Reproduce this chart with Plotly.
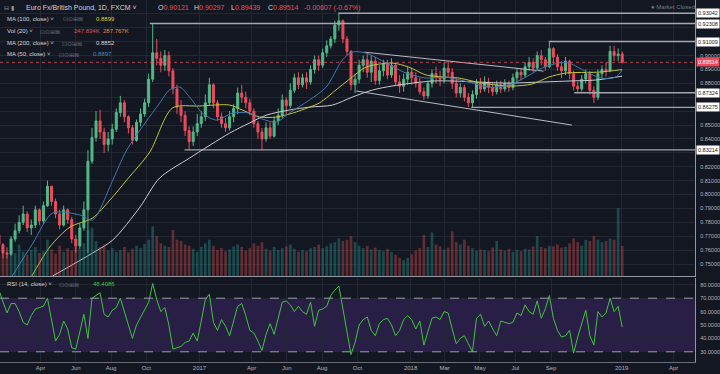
import plotly.graph_objects as go
import pandas as pd

# ---------------- data (weekly candles) ----------------
week_start = "2016-01-20"
n_weeks = 155
first_open = 0.771
last_open = 0.90121

closes = [0.764, 0.758, 0.757, 0.768, 0.774, 0.780, 0.786, 0.776, 0.778, 0.789,
          0.781, 0.792, 0.806, 0.795, 0.786, 0.778, 0.789, 0.782, 0.768, 0.763,
          0.776, 0.789, 0.824, 0.841, 0.853, 0.845, 0.836, 0.840, 0.847, 0.859,
          0.866, 0.856, 0.848, 0.839, 0.852, 0.858, 0.866, 0.883, 0.902, 0.898,
          0.893, 0.900, 0.889, 0.876, 0.863, 0.857, 0.846, 0.838, 0.845, 0.851,
          0.856, 0.866, 0.879, 0.866, 0.856, 0.851, 0.848, 0.856, 0.862, 0.873,
          0.870, 0.866, 0.860, 0.851, 0.845, 0.840, 0.848, 0.842, 0.853, 0.857,
          0.868, 0.864, 0.875, 0.884, 0.879, 0.884, 0.881, 0.890, 0.897, 0.893,
          0.902, 0.907, 0.912, 0.922, 0.925, 0.912, 0.903, 0.879, 0.883, 0.893,
          0.897, 0.888, 0.896, 0.882, 0.889, 0.894, 0.886, 0.893, 0.881, 0.878,
          0.883, 0.888, 0.884, 0.880, 0.874, 0.871, 0.880, 0.887, 0.885, 0.883,
          0.891, 0.888, 0.880, 0.873, 0.877, 0.870, 0.866, 0.872, 0.880, 0.876,
          0.881, 0.877, 0.874, 0.879, 0.876, 0.880, 0.877, 0.884, 0.888, 0.886,
          0.892, 0.895, 0.891, 0.900, 0.897, 0.892, 0.905, 0.899, 0.892, 0.889,
          0.896, 0.887, 0.878, 0.876, 0.883, 0.887, 0.875, 0.870, 0.887, 0.890,
          0.889, 0.903, 0.900, 0.901, 0.89514]

highs = [0.773, 0.765, 0.762, 0.770, 0.779, 0.785, 0.792, 0.788, 0.782, 0.792,
         0.790, 0.795, 0.810, 0.806, 0.797, 0.789, 0.792, 0.790, 0.784, 0.771,
         0.779, 0.795, 0.832, 0.848, 0.860, 0.861, 0.848, 0.845, 0.851, 0.862,
         0.871, 0.868, 0.857, 0.850, 0.854, 0.862, 0.869, 0.887, 0.923, 0.912,
         0.903, 0.904, 0.903, 0.891, 0.879, 0.868, 0.860, 0.849, 0.849, 0.858,
         0.860, 0.872, 0.884, 0.880, 0.868, 0.859, 0.855, 0.860, 0.865, 0.877,
         0.879, 0.874, 0.869, 0.862, 0.853, 0.848, 0.852, 0.852, 0.856, 0.862,
         0.872, 0.870, 0.880, 0.887, 0.888, 0.887, 0.888, 0.893, 0.900, 0.900,
         0.905, 0.911, 0.914, 0.925, 0.930, 0.926, 0.914, 0.904, 0.887, 0.897,
         0.900, 0.901, 0.900, 0.899, 0.893, 0.897, 0.897, 0.898, 0.895, 0.886,
         0.887, 0.892, 0.891, 0.888, 0.884, 0.877, 0.882, 0.890, 0.892, 0.889,
         0.895, 0.896, 0.891, 0.884, 0.880, 0.879, 0.873, 0.875, 0.883, 0.884,
         0.885, 0.884, 0.881, 0.882, 0.882, 0.883, 0.882, 0.887, 0.891, 0.891,
         0.895, 0.899, 0.898, 0.903, 0.904, 0.899, 0.910, 0.906, 0.901, 0.896,
         0.899, 0.897, 0.889, 0.881, 0.886, 0.890, 0.889, 0.878, 0.890, 0.893,
         0.895, 0.907, 0.907, 0.905, 0.90297]

lows = [0.762, 0.754, 0.754, 0.756, 0.766, 0.772, 0.778, 0.773, 0.771, 0.776,
        0.778, 0.779, 0.791, 0.792, 0.783, 0.775, 0.777, 0.779, 0.765, 0.758,
        0.761, 0.774, 0.758, 0.822, 0.838, 0.840, 0.830, 0.831, 0.836, 0.845,
        0.856, 0.852, 0.844, 0.836, 0.838, 0.849, 0.856, 0.863, 0.881, 0.893,
        0.888, 0.889, 0.885, 0.872, 0.858, 0.852, 0.842, 0.832, 0.835, 0.842,
        0.848, 0.853, 0.864, 0.862, 0.853, 0.848, 0.845, 0.846, 0.852, 0.858,
        0.866, 0.862, 0.857, 0.848, 0.840, 0.832, 0.838, 0.840, 0.841, 0.850,
        0.855, 0.858, 0.862, 0.873, 0.876, 0.877, 0.876, 0.879, 0.887, 0.889,
        0.891, 0.899, 0.905, 0.909, 0.918, 0.909, 0.900, 0.875, 0.873, 0.880,
        0.888, 0.884, 0.881, 0.879, 0.879, 0.885, 0.883, 0.884, 0.878, 0.873,
        0.874, 0.879, 0.879, 0.877, 0.872, 0.868, 0.869, 0.877, 0.880, 0.878,
        0.880, 0.884, 0.876, 0.870, 0.870, 0.867, 0.863, 0.8628, 0.869, 0.873,
        0.874, 0.873, 0.871, 0.872, 0.873, 0.874, 0.874, 0.875, 0.881, 0.882,
        0.884, 0.889, 0.888, 0.889, 0.893, 0.889, 0.891, 0.894, 0.889, 0.884,
        0.886, 0.883, 0.875, 0.873, 0.874, 0.880, 0.872, 0.866, 0.868, 0.884,
        0.885, 0.888, 0.896, 0.896, 0.89439]

volumes_k = [180, 210, 170, 230, 190, 260, 200, 175, 215, 240,
             190, 205, 300, 220, 185, 250, 200, 230, 210, 245,
             225, 270, 380, 400, 290, 240, 260, 210, 230, 200,
             215, 240, 195, 225, 250, 230, 265, 300, 410, 330,
             270, 250, 240, 380, 300, 290, 260, 250, 225, 200,
             240, 270, 300, 250, 215, 230, 205, 220, 245, 260,
             240, 210, 230, 270, 250, 280, 225, 210, 240, 215,
             230, 245, 260, 225, 200, 215, 205, 230, 240, 260,
             230, 245, 270, 280, 310, 290, 300, 330, 280, 250,
             230, 250, 220, 235, 215, 205, 225, 200, 175, 150,
             130, 150, 180, 210, 230, 340, 240, 360, 260, 245,
             220, 235, 370, 280, 260, 300, 250, 230, 210, 220,
             215, 205, 235, 290, 220, 210, 225, 200, 215, 205,
             225, 220, 245, 330, 240, 230, 250, 245, 260, 235,
             240, 270, 310, 280, 250, 300, 290, 330, 300, 280,
             290, 310, 300, 560, 247.834]

rsi_vals = [76, 68, 59, 66, 66, 60, 52, 50, 57, 62,
            63, 64, 70, 54, 38, 43, 53, 47, 33, 32,
            45, 58, 40, 70, 72, 74, 58, 56, 61, 63,
            70, 60, 50, 40, 50, 56, 62, 67, 81, 69,
            60, 63, 50, 32, 33, 34, 37, 38, 44, 38,
            53, 69, 73, 52, 46, 54, 49, 42, 53, 64,
            66, 57, 46, 44, 38, 31, 43, 51, 43, 56,
            67, 68, 65, 60, 64, 60, 58, 67, 49, 61,
            62, 64, 72, 76, 79, 62, 44, 28, 37, 50,
            54, 56, 46, 42, 51, 54, 55, 50, 42, 46,
            54, 57, 54, 47, 53, 35, 45, 55, 56, 54,
            60, 59, 47, 36, 40, 42, 36, 30, 55, 58,
            49, 53, 47, 42, 53, 52, 51, 52, 59, 57,
            65, 60, 58, 68, 55, 62, 72, 55, 46, 41,
            42, 46, 29, 41, 51, 61, 42, 35, 60, 56,
            59, 70, 60, 64, 48.4086]

ma50_dates = ["2016-02-12", "2016-03-19", "2016-04-22", "2016-06-08", "2016-06-30",
              "2016-08-04", "2016-08-28", "2016-10-24", "2016-11-10", "2016-11-28",
              "2016-12-15", "2017-01-06", "2017-01-30", "2017-02-27", "2017-03-28",
              "2017-04-15", "2017-05-14", "2017-06-05", "2017-07-10", "2017-08-08",
              "2017-09-05", "2017-09-22", "2017-10-16", "2017-11-20", "2017-12-24",
              "2018-01-28", "2018-03-03", "2018-04-12", "2018-05-16", "2018-06-20",
              "2018-07-19", "2018-08-16", "2018-09-14", "2018-10-02", "2018-11-05",
              "2018-11-27", "2018-12-22", "2019-01-02"]
ma50_vals = [0.7414, 0.7651, 0.7867, 0.7853, 0.7817,
             0.8104, 0.8320, 0.8658, 0.8752, 0.8773,
             0.8701, 0.8586, 0.8536, 0.8586, 0.8586,
             0.8550, 0.8522, 0.8586, 0.8680, 0.8773,
             0.8968, 0.9025, 0.9018, 0.8946, 0.8874,
             0.8838, 0.8845, 0.8809, 0.8773, 0.8788,
             0.8845, 0.8910, 0.8946, 0.8946, 0.8874,
             0.8838, 0.8845, 0.8897]

ma100_dates = ["2016-03-17", "2016-04-17", "2016-05-22", "2016-06-30", "2016-07-30",
               "2016-08-28", "2016-10-07", "2016-11-15", "2017-01-01", "2017-02-22",
               "2017-03-16", "2017-04-15", "2017-05-14", "2017-06-11", "2017-07-10",
               "2017-07-27", "2017-08-31", "2017-09-22", "2017-10-16", "2017-11-30",
               "2017-12-29", "2018-01-28", "2018-03-03", "2018-03-26", "2018-05-04",
               "2018-06-25", "2018-07-30", "2018-08-28", "2018-09-26", "2018-11-22",
               "2019-01-02"]
ma100_vals = [0.7414, 0.7622, 0.7766, 0.7831, 0.7960,
              0.8104, 0.8306, 0.8622, 0.8637, 0.8644,
              0.8608, 0.8558, 0.8558, 0.8586, 0.8629,
              0.8658, 0.8773, 0.8845, 0.8917, 0.8946,
              0.8917, 0.8860, 0.8845, 0.8838, 0.8802,
              0.8781, 0.8795, 0.8845, 0.8874, 0.8881,
              0.8899]

ma200_dates = ["2016-04-22", "2016-06-30", "2016-08-04", "2016-09-20", "2016-10-24",
               "2016-12-15", "2017-02-22", "2017-03-28", "2017-04-27", "2017-06-05",
               "2017-07-10", "2017-08-19", "2017-09-22", "2017-10-27", "2017-11-30",
               "2018-01-04", "2018-02-07", "2018-03-14", "2018-04-29", "2018-06-20",
               "2018-08-11", "2018-10-02", "2018-11-17", "2019-01-02"]
ma200_vals = [0.7414, 0.7579, 0.7673, 0.7910, 0.8119,
              0.8263, 0.8442, 0.8514, 0.8572, 0.8608,
              0.8629, 0.8644, 0.8701, 0.8752, 0.8781,
              0.8802, 0.8817, 0.8817, 0.8809, 0.8802,
              0.8809, 0.8817, 0.8824, 0.8852]

level_prices = [0.93042, 0.92308, 0.91009, 0.87324, 0.86275, 0.83214]
level_starts = ["2017-08-29", "2016-10-07", "2018-08-28", "2018-10-11", "2018-04-16", "2016-12-06"]

channel_upper_dates = ["2017-10-13", "2018-08-19"]
channel_upper_prices = [0.9025, 0.8888]
channel_lower_dates = ["2017-09-29", "2018-10-07"]
channel_lower_prices = [0.8745, 0.8500]

month_ticks = ["2016-04-01", "2016-06-01", "2016-08-01", "2016-10-01", "2017-01-01",
               "2017-04-01", "2017-06-01", "2017-08-01", "2017-10-01", "2018-01-01",
               "2018-03-01", "2018-05-01", "2018-07-01", "2018-09-01", "2019-01-01",
               "2019-04-01"]
month_labels = ["Apr", "Jun", "Aug", "Oct", "2017", "Apr", "Jun", "Aug", "Oct", "2018",
                "Mar", "May", "Jul", "Sep", "2019", "Apr"]

price_ticks = [0.75, 0.76, 0.77, 0.78, 0.79, 0.80, 0.81, 0.82, 0.83, 0.84,
               0.85, 0.86, 0.87, 0.88, 0.89, 0.90, 0.91, 0.92, 0.93, 0.94]
# labels that sit under a level box in the reference are hidden
price_tick_labels = ["0.75000", "0.76000", "0.77000", "0.78000", "0.79000", "0.80000",
                     "0.81000", "0.82000", "", "0.84000", "0.85000", "", "",
                     "0.88000", "0.89000", "0.90000", "", "", "", "0.94000"]
rsi_ticks = [30, 40, 50, 60, 70, 80]

x_start, x_end = "2016-01-21 22:00", "2019-05-08"

# ---------------- styling ----------------
BG = "#131722"
GRID = "#232733"
TXT = "#b2b5be"
UP = "#53b987"
DOWN = "#eb4d5c"
FONT = "Liberation Sans, Arial, sans-serif"
W, H = 720, 374


def px(x):
    return x / W


def py(y):
    return 1 - y / H


dates = pd.date_range(week_start, periods=n_weeks, freq="7D")
opens = [first_open] + closes[:-1]
opens[-1] = last_open
last_close = closes[-1]

vol_colors = ["rgba(38,166,154,0.36)" if c >= o else "rgba(239,83,80,0.36)"
              for o, c in zip(opens, closes)]

fig = go.Figure()

fig.add_trace(go.Bar(x=dates, y=volumes_k, marker=dict(color=vol_colors, line_width=0),
                     width=4.6 * 86400000, xaxis="x", yaxis="y3", hoverinfo="skip"))

for d, p in zip(level_starts, level_prices):
    fig.add_trace(go.Scatter(x=[d, x_end], y=[p, p], mode="lines",
                             line=dict(color="#a3a6af", width=1.4), xaxis="x", yaxis="y",
                             hoverinfo="skip"))

fig.add_trace(go.Scatter(x=channel_upper_dates, y=channel_upper_prices, mode="lines",
                         line=dict(color="#b8bbc3", width=1), xaxis="x", yaxis="y"))
fig.add_trace(go.Scatter(x=channel_lower_dates, y=channel_lower_prices, mode="lines",
                         line=dict(color="#b8bbc3", width=1), xaxis="x", yaxis="y"))

fig.add_trace(go.Scatter(x=[x_start, x_end], y=[last_close, last_close], mode="lines",
                         line=dict(color="rgba(235,77,92,0.75)", width=1, dash="dot"),
                         xaxis="x", yaxis="y"))

fig.add_trace(go.Candlestick(
    x=dates, open=opens, high=highs, low=lows, close=closes,
    increasing=dict(line=dict(color=UP, width=1), fillcolor=UP),
    decreasing=dict(line=dict(color=DOWN, width=1), fillcolor=DOWN),
    whiskerwidth=0, xaxis="x", yaxis="y"))

fig.add_trace(go.Scatter(x=ma200_dates, y=ma200_vals, mode="lines",
                         line=dict(color="#c9cbd1", width=1, shape="spline", smoothing=0.8),
                         xaxis="x", yaxis="y"))
fig.add_trace(go.Scatter(x=ma100_dates, y=ma100_vals, mode="lines",
                         line=dict(color="#c4c43a", width=1, shape="spline", smoothing=0.8),
                         xaxis="x", yaxis="y"))
fig.add_trace(go.Scatter(x=ma50_dates, y=ma50_vals, mode="lines",
                         line=dict(color="#3f79ad", width=1, shape="spline", smoothing=0.8),
                         xaxis="x", yaxis="y"))

fig.add_trace(go.Scatter(x=dates, y=rsi_vals, mode="lines",
                         line=dict(color="#3ec43e", width=1), xaxis="x2", yaxis="y2"))

main_dom = [py(276), 1]
rsi_dom = [py(362), py(278)]
xdom = [0, px(697)]

fig.update_layout(
    width=W, height=H, margin=dict(l=0, r=0, t=0, b=0),
    paper_bgcolor=BG, plot_bgcolor=BG, showlegend=False, hovermode=False,
    font=dict(family=FONT, color=TXT, size=6),
    xaxis=dict(domain=xdom, anchor="y", range=[x_start, x_end], type="date",
               tickvals=month_ticks, ticktext=month_labels, showticklabels=False,
               showgrid=True, gridcolor=GRID, gridwidth=1, zeroline=False,
               showline=True, linecolor="#9598a1", linewidth=1,
               rangeslider=dict(visible=False), ticks=""),
    xaxis2=dict(domain=xdom, anchor="y2", matches="x", range=[x_start, x_end], type="date",
                tickvals=month_ticks, ticktext=month_labels, showticklabels=True,
                tickfont=dict(size=6, color=TXT), showgrid=True, gridcolor=GRID,
                zeroline=False, showline=True, linecolor="#6a6d78", linewidth=1, ticks=""),
    yaxis=dict(domain=main_dom, anchor="x", side="right", range=[0.74137, 0.94],
               tickvals=price_ticks, ticktext=price_tick_labels,
               tickfont=dict(size=5.5, color=TXT),
               showgrid=True, gridcolor=GRID, zeroline=False, showline=True,
               linecolor="#9598a1", linewidth=1, ticks="", ticklabelstandoff=3),
    yaxis2=dict(domain=rsi_dom, anchor="x2", side="right", range=[22.39, 85.07],
                tickvals=rsi_ticks, tickformat=".4f", tickfont=dict(size=5.5, color=TXT),
                showgrid=True, gridcolor=GRID, zeroline=False, showline=True,
                linecolor="#9598a1", linewidth=1, ticks="", ticklabelstandoff=3),
    yaxis3=dict(domain=main_dom, anchor="x", overlaying="y", range=[0, 2280],
                visible=False),
)

# RSI band and levels
fig.add_shape(type="rect", xref="x2 domain", yref="y2", x0=0, x1=1, y0=30, y1=70,
              fillcolor="rgba(126,58,214,0.2)", line_width=0, layer="below")
for lv in (30, 70):
    fig.add_shape(type="line", xref="x2 domain", yref="y2", x0=0, x1=1, y0=lv, y1=lv,
                  line=dict(color="#9a9caa", width=1, dash="dash"))

ann = []


def text(x, y, s, color="#d1d4dc", size=6, family=FONT):
    ann.append(dict(x=px(x), y=py(y), xref="paper", yref="paper", text=s,
                    showarrow=False, xanchor="left", yanchor="middle",
                    font=dict(size=size, color=color, family=family)))


ICONS = "⊡⊙⊞⊠"
text(2, 8, "⊟ ▮", color="#9598a1", size=6, family="DejaVu Sans")
text(24, 8, "Euro Fx/British Pound, 1D, FXCM ˅", size=7)
for xx, lab, val in [(156, "O", "0.90121"), (193, "H", "0.90297"),
                     (230, "L", "0.89439"), (267, "C", "0.89514")]:
    text(xx, 8, f"{lab}<span style='color:{DOWN}'>{val}</span>", size=7)
text(303, 8, "-0.00607 (-0.67%)", color=DOWN, size=7)

text(5, 19, "MA (100, close) ˅", size=6)
text(61, 19, ICONS, color="#6a6d78", size=6, family="DejaVu Sans")
text(94, 19, "0.8899", color="#d6d62e", size=6)
text(5, 31, "Vol (20) ˅", size=6)
text(38, 31, ICONS, color="#6a6d78", size=6, family="DejaVu Sans")
text(72, 31, "247.834K", color="#e0524f", size=6)
text(101, 31, "287.767K", color="#e8893a", size=6)
text(5, 43, "MA (200, close) ˅", size=6)
text(60, 43, ICONS, color="#6a6d78", size=6, family="DejaVu Sans")
text(94, 43, "0.8852", color="#d1d4dc", size=6)
text(5, 54, "MA (50, close) ˅", size=6)
text(57, 54, ICONS, color="#6a6d78", size=6, family="DejaVu Sans")
text(91, 54, "0.8897", color="#4a86c0", size=6)

text(5, 284, "RSI (14, close) ˅", size=6)
text(57, 284, ICONS, color="#6a6d78", size=6, family="DejaVu Sans")
text(91, 284, "48.4086", color="#3ec43e", size=6)

text(651, 7, "● Market Closed", color="#787b86", size=6)

# price-axis boxes
for p in level_prices:
    ann.append(dict(x=px(698), y=p, xref="paper", yref="y", text=f"{p:.5f}",
                    showarrow=False, xanchor="left", yanchor="middle",
                    bgcolor="#ffffff", borderpad=1,
                    font=dict(size=5.5, color="#131722", family=FONT)))
ann.append(dict(x=px(698), y=last_close, xref="paper", yref="y", text=f"{last_close:.5f}",
                showarrow=False, xanchor="left", yanchor="middle",
                bgcolor=DOWN, borderpad=1,
                font=dict(size=5.5, color="#ffffff", family=FONT)))

fig.update_layout(annotations=ann)
fig.write_html("out.html", config={"displayModeBar": False},
               post_script="document.body.style.margin='0';"
                           "document.body.style.background='#131722';")
